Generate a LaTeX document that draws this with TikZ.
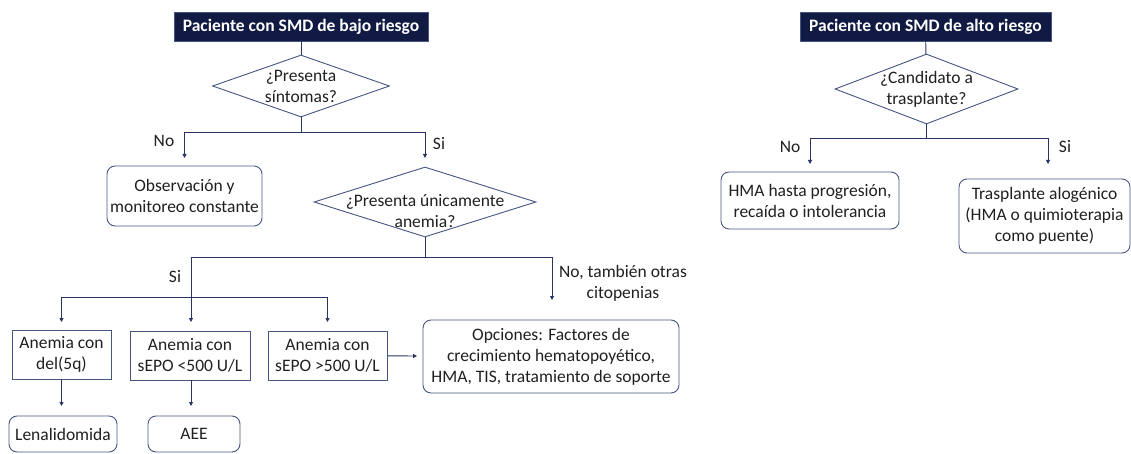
\documentclass[tikz,border=0pt]{standalone}
\usepackage{fontspec}
\setmainfont{Carlito}
\usetikzlibrary{positioning,shapes.geometric,arrows.meta}
\definecolor{navy}{RGB}{16,26,66}
\definecolor{edge}{RGB}{40,52,100}
\definecolor{frame}{RGB}{70,86,128}
\definecolor{ink}{RGB}{32,32,32}

\begin{document}
\begin{tikzpicture}[x=1pt, y=-1pt,
  every node/.style={align=center, text=ink, font=\fontsize{17.5}{21}\selectfont},
  head/.style={draw=frame, fill=navy, text=white, font=\bfseries\fontsize{17.5}{21}\selectfont, minimum height=29pt, inner sep=0pt},
  box/.style={draw=frame, line width=0.9pt, inner sep=0pt, minimum height=49pt},
  rbox/.style={box, rounded corners=8pt},
  decision/.style={diamond, draw=frame, line width=0.9pt, inner sep=-12pt},
  lbl/.style={inner sep=0pt},
  line/.style={draw=edge, line width=0.9pt},
  arr/.style={line, -{Triangle[length=4pt, width=4pt]}}]
\useasboundingbox[fill=white] (0,0) rectangle (1131,454);

% bajo riesgo
\node[head, minimum width=254pt] (bajo) at (301,26.5) {Paciente con SMD de bajo riesgo};
\node[decision, aspect=2.85, minimum width=177pt, minimum height=62pt] (sintomas) at (301,86) {¿Presenta\\síntomas?};
\node[rbox, minimum width=155pt, minimum height=60pt] (obs) at (184.5,196) {Observación y\\monitoreo constante};
\node[decision, aspect=3.17, inner sep=-20pt, minimum width=222pt, minimum height=70pt] (unica) at (425,202) {\rule{0pt}{30pt}¿Presenta únicamente\\anemia?};
\node[box, minimum width=99pt] (del5q) at (61.5,354.5) {Anemia con\\del(5q)};
\node[box, minimum width=120pt] (sepobajo) at (190,355.5) {Anemia con\\sEPO <500 U/L};
\node[box, minimum width=119pt] (sepoalto) at (327.5,355.5) {Anemia con\\sEPO >500 U/L};
\node[rbox, minimum width=256pt, minimum height=73pt] (opciones) at (551,356.5) {Opciones: Factores de\\crecimiento hematopoyético,\\HMA, TIS, tratamiento de soporte};
\node[rbox, minimum width=108pt, minimum height=36pt] (lena) at (63,434) {Lenalidomida};
\node[rbox, minimum width=92pt, minimum height=36pt] (aee) at (194,434) {AEE};

% alto riesgo
\node[head, minimum width=251pt] (alto) at (925.5,26.5) {Paciente con SMD de alto riesgo};
\node[decision, aspect=2.61, minimum width=183pt, minimum height=70pt] (candidato) at (926.5,89) {¿Candidato a\\trasplante?};
\node[rbox, minimum width=178pt, minimum height=57pt] (hma) at (810,200.5) {HMA hasta progresión,\\recaída o intolerancia};
\node[rbox, minimum width=171pt, minimum height=74pt] (trasp) at (1044.5,216) {Trasplante alogénico\\(HMA o quimioterapia\\como puente)};

% labels
\node[lbl] (nosint) at (164,141) {No};
\node[lbl] (sisint) at (439,144) {Si};
\node[lbl] (sianem) at (175,277) {Si};
\node[lbl] (noanem) at (623,283.5) {No, también otras\\citopenias};
\node[lbl] (nocand) at (790,147) {No};
\node[lbl] (sicand) at (1065,147) {Si};

% branch points and free ends
\coordinate (b1) at (301,132);
\coordinate (b2) at (425,257);
\coordinate (b3) at (191,297);
\coordinate (b4) at (926.5,138);
\coordinate (e1) at (184.5,158);
\coordinate (e2) at (425,158);
\coordinate (e3) at (191,322);
\coordinate (e4) at (552,300);
\coordinate (e5) at (61.5,322);
\coordinate (e6) at (327.5,322);
\coordinate (e7) at (61.5,406);
\coordinate (e8) at (191,406);
\coordinate (e9) at (417,356);
\coordinate (e10) at (810,164);
\coordinate (e11) at (1048,164);

\draw[line] (bajo) -- (sintomas);
\draw[line] (sintomas) -- (b1);
\draw[arr] (b1) -| (e1);
\draw[arr] (b1) -| (e2);
\draw[line] (unica) -- (b2);
\draw[arr] (b2) -| (e3);
\draw[arr] (b2) -| (e4);
\draw[arr] (b3) -| (e5);
\draw[arr] (b3) -| (e6);
\draw[arr] (del5q) -- (e7);
\draw[arr] (sepobajo.south -| e8) -- (e8);
\draw[arr] (sepoalto) -- (e9);

\draw[line] (alto) -- (candidato);
\draw[line] (candidato) -- (b4);
\draw[arr] (b4) -| (e10);
\draw[arr] (b4) -| (e11);
\end{tikzpicture}
\end{document}
